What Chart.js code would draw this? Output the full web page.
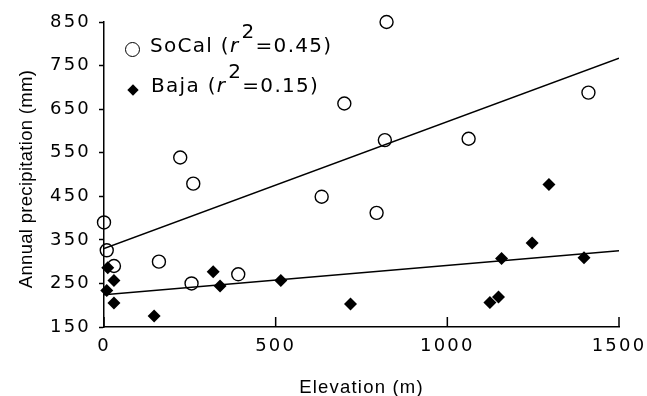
<!DOCTYPE html>
<html>
<head>
<meta charset="utf-8">
<script src="https://cdn.jsdelivr.net/npm/chart.js@4.4.1/dist/chart.umd.min.js"></script>
<style>
    html, body { margin: 0; padding: 0; background: #fff; }
    #wrap { position: relative; width: 647px; height: 396px; }
    #legend { position: absolute; left: 124px; top: 32px; font-family: "DejaVu Sans", sans-serif; font-size: 20px; letter-spacing: 1.3px; color: #000; }
    #legend .row { height: 40px; line-height: 26px; white-space: nowrap; }
    #legend .mk { display: inline-block; vertical-align: middle; position: relative; top: 3px; }
    #legend .circ { width: 13px; height: 13px; border: 1.5px solid #000; border-radius: 50%; margin-left: 1px; margin-right: 10px; }
    #legend .diam { width: 8px; height: 8px; background: #000; transform: rotate(45deg); margin-left: 5px; margin-right: 14px; }
    #legend sup { font-size: 20px; vertical-align: baseline; position: relative; top: -14px; margin-left: 2px; }
</style>
</head>
<body>
<div id="wrap">
    <canvas id="chart" width="647" height="396"></canvas>
    <div id="legend">
        <div class="row"><span class="mk circ"></span>SoCal (<i>r</i><sup>2</sup>=0.45)</div>
        <div class="row"><span class="mk diam"></span>Baja (<i>r</i><sup>2</sup>=0.15)</div>
    </div>
</div>
<script>
// values
var socalElev = [0, 8, 29, 160, 255, 391, 222, 260, 634, 700, 823, 818, 1062, 1411, 794];
var socalPrecip = [390, 326, 290, 300, 250, 271, 539, 479, 449, 663, 850, 579, 582, 688, 412];

var bajaElev = [11, 29, 8, 29, 146, 318, 338, 515, 718, 1124, 1149, 1158, 1247, 1296, 1398];
var bajaPrecip = [286, 257, 234, 205, 175, 277, 244, 257, 203, 206, 219, 307, 343, 477, 309];

// regression line ends
var fitElev = [0, 1500];
var socalFit = [330, 767];
var bajaFit = [224, 325];

var xTicks = [0, 500, 1000, 1500];
var yTicks = [150, 250, 350, 450, 550, 650, 750, 850];

var xTitle = 'Elevation (m)';
var yTitle = 'Annual precipitation (mm)';

function toPoints(xs, ys) {
    var pts = [];
    for (var i = 0; i < xs.length; i++) {
        pts.push({ x: xs[i], y: ys[i] });
    }
    return pts;
}

var fontFamily = '"DejaVu Sans", sans-serif';
var titleFont = '18.5px "Liberation Sans", Arial, sans-serif';

// x ticks point up into the plot, titles drawn by hand
var axisExtras = {
    id: 'axisExtras',
    beforeDraw: function (chart) {
        chart.ctx.letterSpacing = '2.2px';
    },
    afterDraw: function (chart) {
        var ctx = chart.ctx;
        var xs = chart.scales.x;
        var area = chart.chartArea;
        ctx.save();
        ctx.strokeStyle = '#000';
        ctx.lineWidth = 1.5;
        ctx.beginPath();
        for (var i = 0; i < xTicks.length; i++) {
            var px = xs.getPixelForValue(xTicks[i]);
            ctx.moveTo(px, area.bottom);
            ctx.lineTo(px, area.bottom - 10);
        }
        ctx.stroke();

        ctx.fillStyle = '#000';
        ctx.font = titleFont;
        ctx.textAlign = 'center';
        ctx.textBaseline = 'alphabetic';
        ctx.letterSpacing = '1.2px';
        ctx.fillText(xTitle, (area.left + area.right) / 2, 393);

        ctx.letterSpacing = '0.3px';
        ctx.translate(32, 179);
        ctx.rotate(-Math.PI / 2);
        ctx.fillText(yTitle, 0, 0);
        ctx.restore();
    }
};

var config = {
    type: 'scatter',
    data: {
        datasets: [
            {
                label: 'SoCal fit',
                type: 'line',
                data: toPoints(fitElev, socalFit),
                borderColor: '#000',
                borderWidth: 1.5,
                pointRadius: 0,
                fill: false
            },
            {
                label: 'Baja fit',
                type: 'line',
                data: toPoints(fitElev, bajaFit),
                borderColor: '#000',
                borderWidth: 1.3,
                pointRadius: 0,
                fill: false
            },
            {
                label: 'SoCal',
                data: toPoints(socalElev, socalPrecip),
                pointStyle: 'circle',
                pointRadius: 6.5,
                borderColor: '#000',
                borderWidth: 1.4,
                backgroundColor: 'rgba(0,0,0,0)',
                clip: false
            },
            {
                label: 'Baja',
                data: toPoints(bajaElev, bajaPrecip),
                pointStyle: 'rectRot',
                pointRadius: 6.5,
                borderColor: '#000',
                borderWidth: 0,
                backgroundColor: '#000',
                clip: false
            }
        ]
    },
    options: {
        responsive: false,
        animation: false,
        layout: { padding: { left: 0, right: 28, top: 22, bottom: 0 } },
        plugins: {
            legend: { display: false },
            tooltip: { enabled: false }
        },
        scales: {
            x: {
                type: 'linear',
                min: 0,
                max: 1500,
                afterBuildTicks: function (scale) {
                    scale.ticks = xTicks.map(function (v) { return { value: v }; });
                },
                afterFit: function (scale) {
                    scale.height = 69;
                    scale.paddingLeft = 0;
                    scale.paddingRight = 0;
                },
                grid: { display: true, drawOnChartArea: false, drawTicks: false },
                border: { display: true, color: '#000', width: 1.5 },
                ticks: {
                    color: '#000', padding: 9, maxRotation: 0,
                    font: { family: fontFamily, size: 18 },
                    callback: function (v) { return String(v); }
                }
            },
            y: {
                type: 'linear',
                min: 150,
                max: 850,
                afterBuildTicks: function (scale) {
                    scale.ticks = yTicks.map(function (v) { return { value: v }; });
                },
                afterFit: function (scale) {
                    scale.width = 104;
                    scale.paddingTop = 0;
                    scale.paddingBottom = 0;
                },
                grid: { display: true, drawOnChartArea: false, drawTicks: true, tickLength: 5, color: '#000', tickWidth: 1.5 },
                border: { display: true, color: '#000', width: 1.5 },
                ticks: {
                    color: '#000', padding: 8,
                    font: { family: fontFamily, size: 18 },
                    callback: function (v) { return String(v); }
                }
            }
        }
    },
    plugins: [axisExtras]
};

new Chart(document.getElementById('chart'), config);
</script>
</body>
</html>
